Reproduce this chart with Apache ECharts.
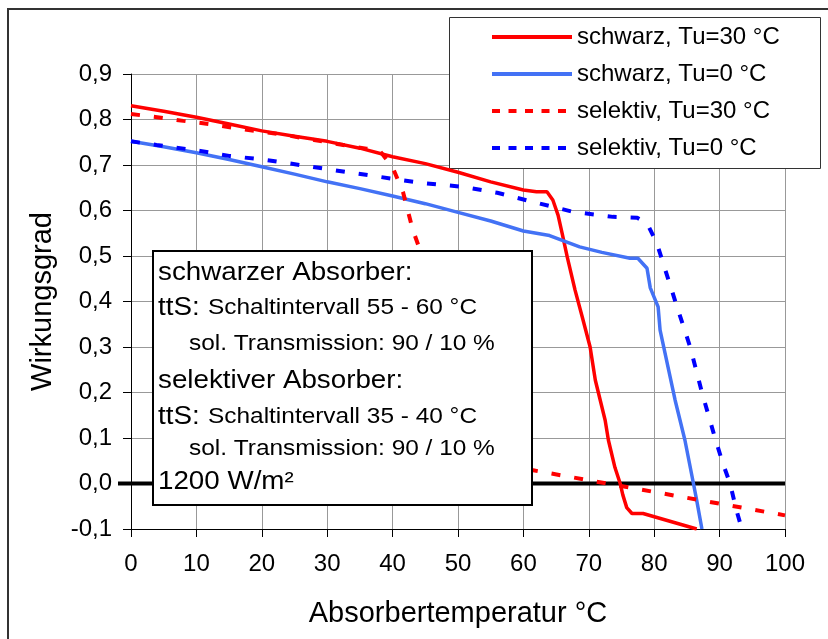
<!DOCTYPE html>
<html lang="de">
<head>
    <meta charset="UTF-8">
    <script src="https://cdn.jsdelivr.net/npm/echarts@6/dist/echarts.min.js"></script>
    <title>Wirkungsgrad</title>
</head>
<body style="margin:0; background:#fff;">
<div id="container" style="width:828px; height:639px;"></div>
<script>
    // Absorbertemperatur (°C) und Wirkungsgrad je Kurve
    let schwarz30T = [0, 5, 10, 15, 20, 25, 30, 35, 40, 45, 50, 55, 60, 62, 63.6, 64.5, 65.3, 66, 66.7, 67.9, 69, 70.2, 71, 72.5, 73, 74, 74.8, 75.2, 75.8, 76.6, 78.3, 86.5];
    let schwarz30W = [0.83, 0.818, 0.805, 0.79, 0.775, 0.763, 0.752, 0.737, 0.718, 0.703, 0.684, 0.663, 0.645, 0.641, 0.641, 0.623, 0.59, 0.545, 0.498, 0.425, 0.366, 0.30, 0.227, 0.139, 0.095, 0.035, 0.0, -0.025, -0.053, -0.066, -0.066, -0.1];

    let schwarz0T = [0, 5, 10, 15, 20, 25, 30, 35, 40, 45, 50, 55, 60, 64, 68.6, 72, 76.3, 77.5, 78.9, 79.4, 80.6, 80.9, 83.2, 84.7, 86, 86.5, 87.3];
    let schwarz0W = [0.752, 0.74, 0.727, 0.712, 0.696, 0.68, 0.663, 0.648, 0.632, 0.615, 0.596, 0.577, 0.555, 0.545, 0.52, 0.508, 0.495, 0.495, 0.473, 0.43, 0.388, 0.337, 0.183, 0.095, 0.0, -0.037, -0.1];

    let selektiv30T = [0, 4, 8, 12, 16, 20, 24, 28, 32, 36, 38, 40, 41.6, 43.1, 44.2, 46, 48, 50, 52, 54, 61.5, 100];
    let selektiv30W = [0.812, 0.805, 0.797, 0.79, 0.781, 0.773, 0.765, 0.755, 0.745, 0.736, 0.732, 0.695, 0.64, 0.557, 0.513, 0.44, 0.35, 0.25, 0.15, 0.065, 0.029, -0.07];

    let selektiv0T = [0, 3.9, 10.6, 15, 20.7, 30.9, 38, 44.2, 50.8, 56, 62, 67.6, 73.7, 77.4, 78.9, 80.4, 83.5, 85.5, 87.3, 89.3, 90.5, 91.6, 92.6, 93.4];
    let selektiv0W = [0.752, 0.744, 0.731, 0.72, 0.711, 0.689, 0.674, 0.661, 0.652, 0.639, 0.617, 0.597, 0.586, 0.584, 0.572, 0.528, 0.388, 0.30, 0.2, 0.1, 0.044, 0.0, -0.06, -0.1];

    let seriesNames = ['schwarz, Tu=30 °C', 'schwarz, Tu=0 °C', 'selektiv, Tu=30 °C', 'selektiv, Tu=0 °C'];

    let boxLines = [
        'schwarzer Absorber:',
        'ttS:', 'Schaltintervall 55 - 60 °C',
        'sol. Transmission: 90 / 10 %',
        'selektiver Absorber:',
        'ttS:', 'Schaltintervall 35 - 40 °C',
        'sol. Transmission: 90 / 10 %',
        '1200 W/m²'
    ];

    function zip(t, w) {
        return t.map(function (x, i) { return [x, w[i]]; });
    }

    let font = 'Liberation Sans, Arial, sans-serif';
    let dash = [9, 14];

    let dom = document.getElementById('container');
    let myChart = echarts.init(dom);

    function boxText(txt, x, y, size) {
        return {
            type: 'text', x: x, y: y, scaleX: 1.11, z: 101,
            style: {text: txt, font: size + 'px ' + font, fill: '#000', verticalAlign: 'middle'}
        };
    }

    let option = {
        backgroundColor: '#fff',
        animation: false,
        grid: {left: 131, right: 43, top: 74, bottom: 110},
        legend: {
            orient: 'vertical',
            left: 490,
            top: 25,
            itemWidth: 80,
            itemHeight: 24,
            itemGap: 13,
            padding: 0,
            textStyle: {fontSize: 24, color: '#000', fontFamily: font},
            itemStyle: {opacity: 0},
            lineStyle: {width: 4},
            data: [
                {name: seriesNames[0]},
                {name: seriesNames[1]},
                {name: seriesNames[2], lineStyle: {type: [8, 8.5]}},
                {name: seriesNames[3], lineStyle: {type: [8, 8.5]}}
            ]
        },
        xAxis: {
            type: 'value',
            min: 0, max: 100, interval: 10,
            name: 'Absorbertemperatur °C',
            nameLocation: 'middle',
            nameGap: 70,
            nameTextStyle: {fontSize: 29, color: '#000', fontFamily: font},
            axisLine: {onZero: false, lineStyle: {color: '#000', width: 1}},
            axisTick: {length: 8, lineStyle: {color: '#000'}},
            axisLabel: {fontSize: 24, color: '#000', fontFamily: font, margin: 23},
            splitLine: {show: true, lineStyle: {color: '#999', width: 1}}
        },
        yAxis: {
            type: 'value',
            min: -0.1, max: 0.9, interval: 0.1,
            name: 'Wirkungsgrad',
            nameLocation: 'middle',
            nameGap: 74,
            nameTextStyle: {fontSize: 29, color: '#000', fontFamily: font},
            axisLine: {show: true, onZero: false, lineStyle: {color: '#000', width: 1}},
            axisTick: {show: true, length: 8, lineStyle: {color: '#000'}},
            axisLabel: {
                fontSize: 24, color: '#000', fontFamily: font, margin: 19,
                formatter: function (v) { return v.toFixed(1).replace('.', ','); }
            },
            splitLine: {show: true, lineStyle: {color: '#999', width: 1}}
        },
        series: [
            {
                name: 'null', type: 'line', data: [[0, 0], [100, 0]], symbol: 'none', silent: true,
                lineStyle: {color: '#000', width: 4}, z: 1
            },
            {
                name: seriesNames[0], type: 'line', data: zip(schwarz30T, schwarz30W), symbol: 'none',
                color: '#ff0000', lineStyle: {color: '#ff0000', width: 3.5}
            },
            {
                name: seriesNames[1], type: 'line', data: zip(schwarz0T, schwarz0W), symbol: 'none',
                color: '#4372f5', lineStyle: {color: '#4372f5', width: 3.5}
            },
            {
                name: seriesNames[2], type: 'line', data: zip(selektiv30T, selektiv30W), symbol: 'none',
                color: '#ff0000', lineStyle: {color: '#ff0000', width: 4, type: dash}
            },
            {
                name: seriesNames[3], type: 'line', data: zip(selektiv0T, selektiv0W), symbol: 'none',
                color: '#0000ff', lineStyle: {color: '#0000ff', width: 4, type: dash}
            }
        ],
        graphic: [
            // Rahmen um das ganze Diagramm
            {type: 'rect', z: 0, silent: true, shape: {x: 8, y: 9, width: 840, height: 660},
                style: {fill: 'none', stroke: '#333', lineWidth: 2}},
            // Legendenrahmen
            {type: 'rect', z: 3, shape: {x: 449.5, y: 17.5, width: 371, height: 151},
                style: {fill: '#fff', stroke: '#333', lineWidth: 1}},
            // Textkasten
            {type: 'rect', z: 100, shape: {x: 153, y: 251, width: 379, height: 254},
                style: {fill: '#fff', stroke: '#000', lineWidth: 2}},
            boxText(boxLines[0], 158, 273, 25),
            boxText(boxLines[1], 158, 308, 25),
            boxText(boxLines[2], 208, 308, 22),
            boxText(boxLines[3], 189, 344, 22),
            boxText(boxLines[4], 158, 381, 25),
            boxText(boxLines[5], 158, 417, 25),
            boxText(boxLines[6], 208, 417, 22),
            boxText(boxLines[7], 189, 449, 22),
            boxText(boxLines[8], 158, 482, 25)
        ]
    };

    myChart.setOption(option);

    // Nulllinie ragt etwas links über die Achse hinaus
    let p0 = myChart.convertToPixel({gridIndex: 0}, [0, 0]);
    myChart.setOption({
        graphic: option.graphic.concat([{
            type: 'line', z: 5, silent: true,
            shape: {x1: p0[0] - 13, y1: p0[1], x2: p0[0], y2: p0[1]},
            style: {stroke: '#000', lineWidth: 4}
        }])
    });
</script>
</body>
</html>
